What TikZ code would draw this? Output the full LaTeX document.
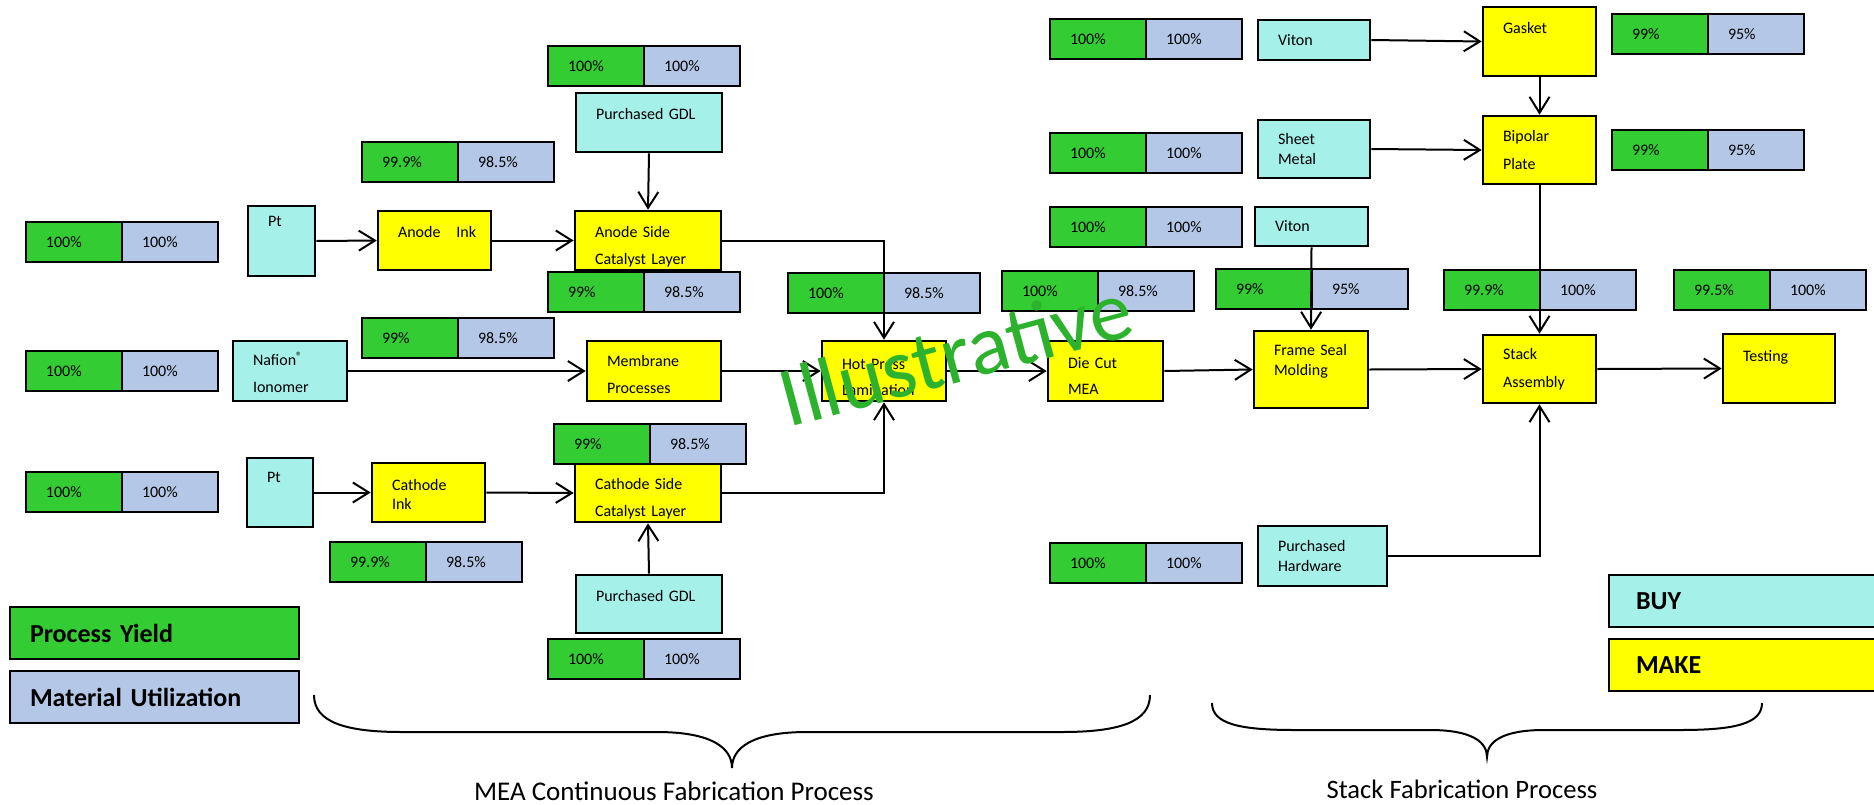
\documentclass[tikz,border=0pt]{standalone}
\usepackage{fontspec}
\setmainfont{Carlito}
\usetikzlibrary{arrows.meta,positioning}
\definecolor{yieldgreen}{RGB}{51,204,51}
\definecolor{utilblue}{RGB}{180,199,231}
\definecolor{buycyan}{RGB}{166,240,234}
\definecolor{makeyellow}{RGB}{255,255,0}
\definecolor{markgreen}{RGB}{44,178,44}

\begin{document}
\begin{tikzpicture}[x=0.5pt, y=-0.5pt, font=\fontsize{8}{9.6}\selectfont,
    cell/.style={draw, line width=1.3pt, outer sep=0pt, minimum height=20pt, inner xsep=10pt, text width=28pt, align=left},
    yieldcell/.style={cell, fill=yieldgreen, anchor=north west},
    utilcell/.style={cell, fill=utilblue},
    box/.style={draw, line width=1.3pt, inner xsep=10pt, inner ysep=1pt, align=left},
    buy/.style={box, fill=buycyan},
    make/.style={box, fill=makeyellow},
    legend/.style={draw, line width=1.3pt, minimum height=26pt, inner xsep=10pt, text width=124.5pt, align=left, font=\fontsize{13}{15}\selectfont\bfseries},
    flow/.style={line width=1pt, -{Straight Barb[length=8pt,width=10pt,line width=1pt]}},
    brace/.style={line width=1pt}]

    \useasboundingbox (0,0) rectangle (1874,804);

    % 左侧 MEA 部分
    \node[buy, text width=13.5pt, minimum height=35pt] (ptA) at (281.5,241) {\raisebox{20pt}{Pt}};
    \node[make, text width=36.5pt, minimum height=29.5pt] (anodeInk) at (434.5,240.5) {\raisebox{8.5pt}{Anode\ \ \ Ink}};
    \node[make, text height=12pt, text width=53pt, minimum height=29.5pt] (anodeSide) at (648,240.5) {Anode Side\\[4pt]Catalyst Layer};
    \node[buy, text width=53pt, minimum height=29.5pt] (gdlA) at (649,122.5) {\raisebox{8.5pt}{Purchased GDL}};
    \node[buy, text height=8pt, text width=37pt, minimum height=30pt] (nafion) at (290,371) {Nafion\textsuperscript{®}\\[3.5pt]Ionomer};
    \node[make, text height=9pt, text width=47pt, minimum height=30pt] (membrane) at (654,371) {Membrane\\[4pt]Processes};
    \node[buy, text width=13pt, minimum height=34.5pt] (ptB) at (280,492.5) {\raisebox{15.5pt}{Pt}};
    \node[make, text height=7.6pt, text width=36.5pt, minimum height=29.5pt] (cathodeInk) at (428.5,492.5) {Cathode\\Ink};
    \node[make, text height=11.6pt, text width=53pt, minimum height=29pt] (cathodeSide) at (648,493) {Cathode Side\\[4pt]Catalyst Layer};
    \node[buy, text width=53pt, minimum height=29pt] (gdlB) at (649,604) {\raisebox{8pt}{Purchased GDL}};
    \node[make, text height=11.6pt, text width=42pt, minimum height=30pt] (hotPress) at (884,371) {Hot Press\\[3.5pt]Lamination};
    \node[make, text height=10.6pt, text width=37.5pt, minimum height=30pt] (dieCut) at (1105.5,371) {Die Cut\\[3.5pt]MEA};

    % 右侧电堆部分
    \node[buy, text width=36pt, minimum height=20pt] (vitonA) at (1314,40) {Viton};
    \node[make, text width=36.5pt, minimum height=34.5pt] (gasket) at (1539.5,41.5) {\raisebox{13.5pt}{Gasket}};
    \node[buy, text width=36pt, minimum height=29pt] (sheet) at (1314,149) {Sheet\\Metal};
    \node[make, text width=36.5pt, minimum height=34pt] (bipolar) at (1539.5,150) {Bipolar\\[4.5pt]Plate};
    \node[buy, text width=36.5pt, minimum height=19.5pt] (vitonB) at (1311.5,226.5) {Viton};
    \node[make, text width=37pt, minimum height=38.5pt] (frameSeal) at (1311,369.5) {Frame Seal\\Molding\\~};
    \node[make, text width=36.5pt, minimum height=34pt] (stack) at (1539.5,369) {Stack\\[4.5pt]Assembly};
    \node[make, text width=36pt, minimum height=34.5pt] (testing) at (1779,368.5) {\raisebox{12.5pt}{Testing}};
    \node[buy, text width=44.5pt, minimum height=30pt] (hardware) at (1322.5,556) {Purchased\\Hardware};

    % 良率 / 材料利用率
    \foreach \nm/\px/\py/\yv/\uv in {ptA/26/222/100\%/100\%, anodeInk/362/142/99.9\%/98.5\%,
        gdlA/548/46/100\%/100\%, anodeSide/548/272/99\%/98.5\%, nafion/26/351/100\%/100\%,
        membrane/362/318/99\%/98.5\%, ptB/26/472/100\%/100\%, cathodeSide/554/424/99\%/98.5\%,
        cathodeInk/330/542/99.9\%/98.5\%, gdlB/548/639/100\%/100\%, hotPress/788/273/100\%/98.5\%,
        dieCut/1002/271/100\%/98.5\%, vitonA/1050/19/100\%/100\%, gasket/1612/14/99\%/95\%,
        sheet/1050/133/100\%/100\%, bipolar/1612/130/99\%/95\%, vitonB/1050/207/100\%/100\%,
        frameSeal/1216/269/99\%/95\%, stack/1444/270/99.9\%/100\%, testing/1674/270/99.5\%/100\%,
        hardware/1050/543/100\%/100\%}
    {
        \node[yieldcell] (\nm-y) at (\px,\py) {\yv};
        \node[utilcell, right=0pt of \nm-y] (\nm-u) {\uv};
    }

    % 图例
    \node[legend, fill=yieldgreen] (legYield) at (154.5,633) {Process Yield};
    \node[legend, fill=utilblue] (legUtil) at (154.5,697) {Material Utilization};
    \node[legend, fill=buycyan, inner xsep=13.5pt, text width=108.5pt] (legBuy) at (1744.5,601) {BUY};
    \node[legend, fill=makeyellow, inner xsep=13.5pt, text width=108.5pt] (legMake) at (1744.5,665) {MAKE};

    % 流程箭头
    \draw[flow] (ptA.east) -- (anodeInk.west);
    \draw[flow] (anodeInk.east) -- (anodeSide.west);
    \draw[flow] (gdlA.south) -- (anodeSide.north);
    \draw[flow] (anodeSide.east) -| (hotPress.north);
    \draw[flow] (nafion.east) -- (membrane.west);
    \draw[flow] (membrane.east) -- (hotPress.west);
    \draw[flow] (ptB.east) -- (cathodeInk.west);
    \draw[flow] (cathodeInk.east) -- (cathodeSide.west);
    \draw[flow] (gdlB.north) -- (cathodeSide.south);
    \draw[flow] (cathodeSide.east) -| (hotPress.south);
    \draw[flow] (hotPress.east) -- (dieCut.west);
    \draw[flow] (dieCut.east) -- (frameSeal.west);
    \draw[flow] (vitonA.east) -- (gasket.west);
    \draw[flow] (gasket.south) -- (bipolar.north);
    \draw[flow] (sheet.east) -- (bipolar.west);
    \draw[flow] (bipolar.south) -- (stack.north);
    \draw[flow] (vitonB.south) -- (frameSeal.north);
    \draw[flow] (frameSeal.east) -- (stack.west);
    \draw[flow] (stack.east) -- (testing.west);
    \draw[flow] (hardware.east) -| (stack.south);

    % 大括号与说明
    \draw[brace] (314,695) .. controls (314,722) and (345,732) .. (402,732) -- (657,732)
        .. controls (712,732) and (732,748) .. (732,768) .. controls (732,748) and (752,732) .. (807,732)
        -- (1062,732) .. controls (1119,732) and (1150,722) .. (1150,695);
    \draw[brace] (1212,703) .. controls (1212,724) and (1240,730) .. (1295,730) -- (1430,730)
        .. controls (1472,730) and (1487,742) .. (1487,757) .. controls (1487,742) and (1502,730) .. (1544,730)
        -- (1680,730) .. controls (1734,730) and (1762,724) .. (1762,703);
    \node[font=\fontsize{13.5}{16}\selectfont] (meaLabel) at (674,791) {MEA Continuous Fabrication Process};
    \node[font=\fontsize{13.3}{16}\selectfont] (stackLabel) at (1462,789) {Stack Fabrication Process};

    % 水印
    \node[rotate=15, anchor=base west, inner sep=0pt, text=markgreen, font=\fontsize{42.5}{48}\selectfont] (mark) at (788,428) {Illustrative};
\end{tikzpicture}
\end{document}
